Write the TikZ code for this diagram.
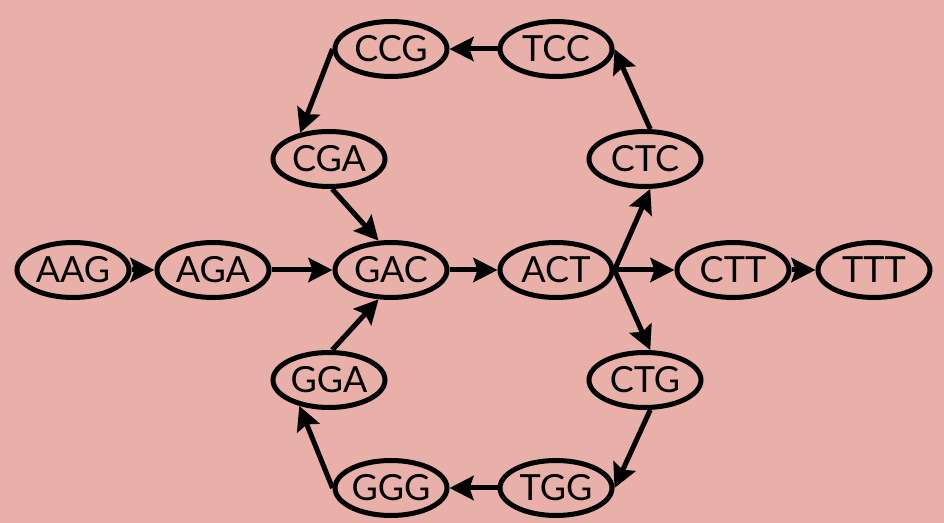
\documentclass[tikz,border=0pt]{standalone}
\usepackage{fontspec}
\setmainfont{Lato}
\usetikzlibrary{shapes.geometric,arrows.meta}
\definecolor{bgpink}{RGB}{232,176,168}
\begin{document}
\begin{tikzpicture}[x=0.5pt,y=-0.5pt,
  kmer/.style={ellipse,draw=black,line width=2.5pt,inner sep=0pt,
    minimum width=56pt,minimum height=27.5pt,
    font=\fontsize{18}{21}\selectfont},
  link/.style={line width=2.5pt,-{Stealth[length=12pt,width=12pt,inset=2pt]}}]
  \fill[bgpink] (0,0) rectangle (944,523);
  \useasboundingbox (0,0) rectangle (944,523);
  % k-mer nodes
  \node[kmer] (AAG) at (73,270) {\makebox[0pt]{AAG}};
  \node[kmer] (AGA) at (213,270) {\makebox[0pt]{AGA}};
  \node[kmer] (GAC) at (391,270) {\makebox[0pt]{GAC}};
  \node[kmer] (ACT) at (556,270) {\makebox[0pt]{ACT}};
  \node[kmer] (CTT) at (733,270) {\makebox[0pt]{CTT}};
  \node[kmer] (TTT) at (874,270) {\makebox[0pt]{TTT}};
  \node[kmer] (CGA) at (329,159) {\makebox[0pt]{CGA}};
  \node[kmer] (GGA) at (329,380) {\makebox[0pt]{GGA}};
  \node[kmer] (CCG) at (391,49) {\makebox[0pt]{CCG}};
  \node[kmer] (TCC) at (556,49) {\makebox[0pt]{TCC}};
  \node[kmer] (CTC) at (645,159) {\makebox[0pt]{CTC}};
  \node[kmer] (CTG) at (645,380) {\makebox[0pt]{CTG}};
  \node[kmer] (GGG) at (391,488) {\makebox[0pt]{GGG}};
  \node[kmer] (TGG) at (556,488) {\makebox[0pt]{TGG}};
  % overlap edges
  \draw[link] (AAG.east) -- (AGA.west);
  \draw[link] (AGA.east) -- (GAC.west);
  \draw[link] (CGA.-84) -- (GAC.113);
  \draw[link] (GGA.84) -- (GAC.-113);
  \draw[link] (GAC.east) -- (ACT.west);
  \draw[link] (ACT.east) -- (CTC.-80);
  \draw[link] (ACT.east) -- (CTT.west);
  \draw[link] (ACT.east) -- (CTG.80);
  \draw[link] (CTT.east) -- (TTT.west);
  \draw[link] (CTC.80) -- (TCC.east);
  \draw[link] (TCC.west) -- (CCG.east);
  \draw[link] (CCG.west) -- (CGA.138);
  \draw[link] (CTG.-80) -- (TGG.east);
  \draw[link] (TGG.west) -- (GGG.east);
  \draw[link] (GGG.west) -- (GGA.-139);
\end{tikzpicture}
\end{document}
